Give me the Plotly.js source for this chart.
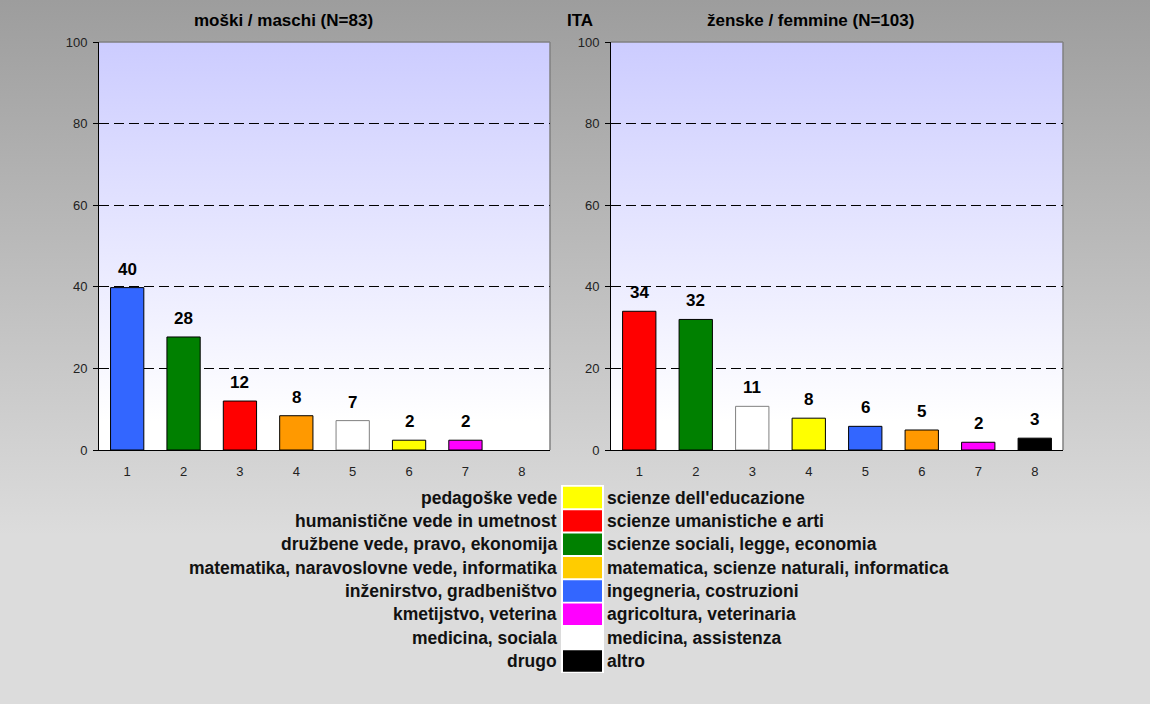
<!DOCTYPE html>
<html>
<head>
<meta charset="utf-8">
<script src="https://cdn.plot.ly/plotly-3.0.1.min.js"></script>
<style>
  html, body { margin: 0; padding: 0; }
  body { width: 1150px; height: 704px; overflow: hidden;
         background: linear-gradient(to bottom, #9d9d9d 0%, #dcdcdc 76%, #dcdcdc 100%); }
  #chart { width: 1150px; height: 704px; }
</style>
</head>
<body>
<div id="chart"></div>
<script>
// ---------- data ----------
const categories = ['1', '2', '3', '4', '5', '6', '7', '8'];

const maleTitle = 'moški / maschi (N=83)';
const maleValues = [39.8, 27.7, 12.0, 8.4, 7.2, 2.4, 2.4, null];
const maleLabels = ['40', '28', '12', '8', '7', '2', '2', ''];
const maleColors = ['#3366ff', '#008000', '#ff0000', '#ff9900', '#ffffff', '#ffff00', '#ff00ff', '#000000'];

const femaleTitle = 'ženske / femmine (N=103)';
const femaleValues = [34.0, 32.0, 10.7, 7.8, 5.8, 4.9, 1.9, 2.9];
const femaleLabels = ['34', '32', '11', '8', '6', '5', '2', '3'];
const femaleColors = ['#ff0000', '#008000', '#ffffff', '#ffff00', '#3366ff', '#ff9900', '#ff00ff', '#000000'];

const centerTitle = 'ITA';

const yTickVals = [0, 20, 40, 60, 80, 100];

const legendSl = ['pedagoške vede', 'humanistične vede in umetnost', 'družbene vede, pravo, ekonomija',
  'matematika, naravoslovne vede, informatika', 'inženirstvo, gradbeništvo', 'kmetijstvo, veterina',
  'medicina, sociala', 'drugo'];
const legendIt = ["scienze dell'educazione", 'scienze umanistiche e arti', 'scienze sociali, legge, economia',
  'matematica, scienze naturali, informatica', 'ingegneria, costruzioni', 'agricoltura, veterinaria',
  'medicina, assistenza', 'altro'];
const legendColors = ['#ffff00', '#ff0000', '#008000', '#ffcc00', '#3366ff', '#ff00ff', '#ffffff', '#000000'];

// ---------- layout helpers ----------
const W = 1150, H = 704;
const px = x => x / W;
const py = y => 1 - y / H;
const FONT = '"Liberation Sans", Arial, sans-serif';

const plotTop = 42, plotBottom = 450;
const leftDom = [99, 550];
const rightDom = [611, 1063];

function outline(c) { return c.toLowerCase() === '#ffffff' ? '#808080' : '#000000'; }

const traces = [
  {
    type: 'bar', x: categories, y: maleValues, xaxis: 'x', yaxis: 'y',
    marker: { color: maleColors, line: { color: maleColors.map(outline), width: 1 } },
    hoverinfo: 'x+y'
  },
  {
    type: 'bar', x: categories, y: femaleValues, xaxis: 'x2', yaxis: 'y2',
    marker: { color: femaleColors, line: { color: femaleColors.map(outline), width: 1 } },
    hoverinfo: 'x+y'
  }
];

function xAxis(dom, anchor) {
  return {
    domain: [px(dom[0]), px(dom[1])], anchor: anchor, type: 'category',
    range: [-0.5, 7.5], showgrid: false, zeroline: false,
    showline: true, linecolor: '#000000', linewidth: 1,
    ticks: '', ticklabelstandoff: 9,
    tickfont: { family: FONT, size: 13, color: '#222222' }, fixedrange: true
  };
}
function yAxis(anchor) {
  return {
    domain: [py(plotBottom), py(plotTop)], anchor: anchor,
    range: [0, 100], tickmode: 'array', tickvals: yTickVals,
    showgrid: true, gridcolor: '#000000', gridwidth: 1, griddash: '10px,5px',
    zeroline: false, showline: true, linecolor: '#000000', linewidth: 1,
    ticks: 'outside', ticklen: 5, tickcolor: '#000000', ticklabelstandoff: 3,
    tickfont: { family: FONT, size: 13, color: '#222222' }, fixedrange: true
  };
}

const gradSvg = "<svg xmlns='http://www.w3.org/2000/svg' width='10' height='100' preserveAspectRatio='none'>" +
  "<defs><linearGradient id='g' x1='0' y1='0' x2='0' y2='1'>" +
  "<stop offset='0' stop-color='#ccccff'/><stop offset='0.93' stop-color='#ffffff'/><stop offset='1' stop-color='#ffffff'/></linearGradient></defs>" +
  "<rect width='10' height='100' fill='url(#g)'/></svg>";
const gradUrl = 'data:image/svg+xml;charset=utf-8,' + encodeURIComponent(gradSvg);

const images = [leftDom, rightDom].map(d => ({
  source: gradUrl, xref: 'paper', yref: 'paper',
  x: px(d[0]), y: py(plotTop), sizex: (d[1] - d[0]) / W, sizey: (plotBottom - plotTop) / H,
  xanchor: 'left', yanchor: 'top', sizing: 'stretch', layer: 'below'
}));

const shapes = [];
[leftDom, rightDom].forEach(d => {
  shapes.push({ type: 'line', xref: 'paper', yref: 'paper', layer: 'below',
    x0: px(d[1]), x1: px(d[1]), y0: py(plotTop), y1: py(plotBottom), line: { color: '#808080', width: 1.5 } });
  shapes.push({ type: 'line', xref: 'paper', yref: 'paper', layer: 'below',
    x0: px(d[0]), x1: px(d[1]), y0: py(plotTop), y1: py(plotTop), line: { color: '#808080', width: 1.5 } });
});

const annotations = [];
// titles
annotations.push({ text: '<b>' + maleTitle + '</b>', xref: 'paper', yref: 'paper', x: px(283), y: py(21),
  xanchor: 'center', yanchor: 'middle', showarrow: false, font: { family: FONT, size: 17, color: '#000' } });
annotations.push({ text: '<b>' + centerTitle + '</b>', xref: 'paper', yref: 'paper', x: px(580), y: py(21),
  xanchor: 'center', yanchor: 'middle', showarrow: false, font: { family: FONT, size: 17, color: '#000' } });
annotations.push({ text: '<b>' + femaleTitle + '</b>', xref: 'paper', yref: 'paper', x: px(810), y: py(21),
  xanchor: 'center', yanchor: 'middle', showarrow: false, font: { family: FONT, size: 17, color: '#000' } });

// bar labels (x given as category index on the category axis)
function barLabels(vals, labels, xa, ya) {
  vals.forEach((v, i) => {
    if (!labels[i] || v === null) return;
    annotations.push({ text: '<b>' + labels[i] + '</b>', xref: xa, yref: ya, x: i, y: v,
      xanchor: 'center', yanchor: 'bottom', yshift: 7, showarrow: false,
      font: { family: FONT, size: 17, color: '#000' } });
  });
}
barLabels(maleValues, maleLabels, 'x', 'y');
barLabels(femaleValues, femaleLabels, 'x2', 'y2');

// custom legend
const legTop = 497.5, legStep = 23.36;
shapes.push({ type: 'rect', xref: 'paper', yref: 'paper', layer: 'above',
  x0: px(561), x1: px(604), y0: py(485), y1: py(673), fillcolor: '#ffffff', line: { width: 0 } });
legendColors.forEach((c, i) => {
  const yc = legTop + i * legStep;
  shapes.push({ type: 'rect', xref: 'paper', yref: 'paper', layer: 'above',
    x0: px(563), x1: px(602), y0: py(yc - 10.7), y1: py(yc + 10.7), fillcolor: c, line: { width: 0 } });
  annotations.push({ text: '<b>' + legendSl[i] + '</b>', xref: 'paper', yref: 'paper', x: px(559), y: py(yc),
    xanchor: 'right', yanchor: 'middle', showarrow: false, font: { family: FONT, size: 17.5, color: '#111' } });
  annotations.push({ text: '<b>' + legendIt[i] + '</b>', xref: 'paper', yref: 'paper', x: px(605), y: py(yc),
    xanchor: 'left', yanchor: 'middle', showarrow: false, font: { family: FONT, size: 17.5, color: '#111' } });
});

const layout = {
  width: W, height: H, autosize: false,
  margin: { l: 0, r: 0, t: 0, b: 0, pad: 0 },
  paper_bgcolor: 'rgba(0,0,0,0)', plot_bgcolor: 'rgba(0,0,0,0)',
  showlegend: false, bargap: 0.41,
  font: { family: FONT, color: '#000' },
  xaxis: xAxis(leftDom, 'y'), yaxis: yAxis('x'),
  xaxis2: xAxis(rightDom, 'y2'), yaxis2: yAxis('x2'),
  images: images, shapes: shapes, annotations: annotations
};

Plotly.newPlot('chart', traces, layout, { displayModeBar: false, staticPlot: true });
</script>
</body>
</html>
